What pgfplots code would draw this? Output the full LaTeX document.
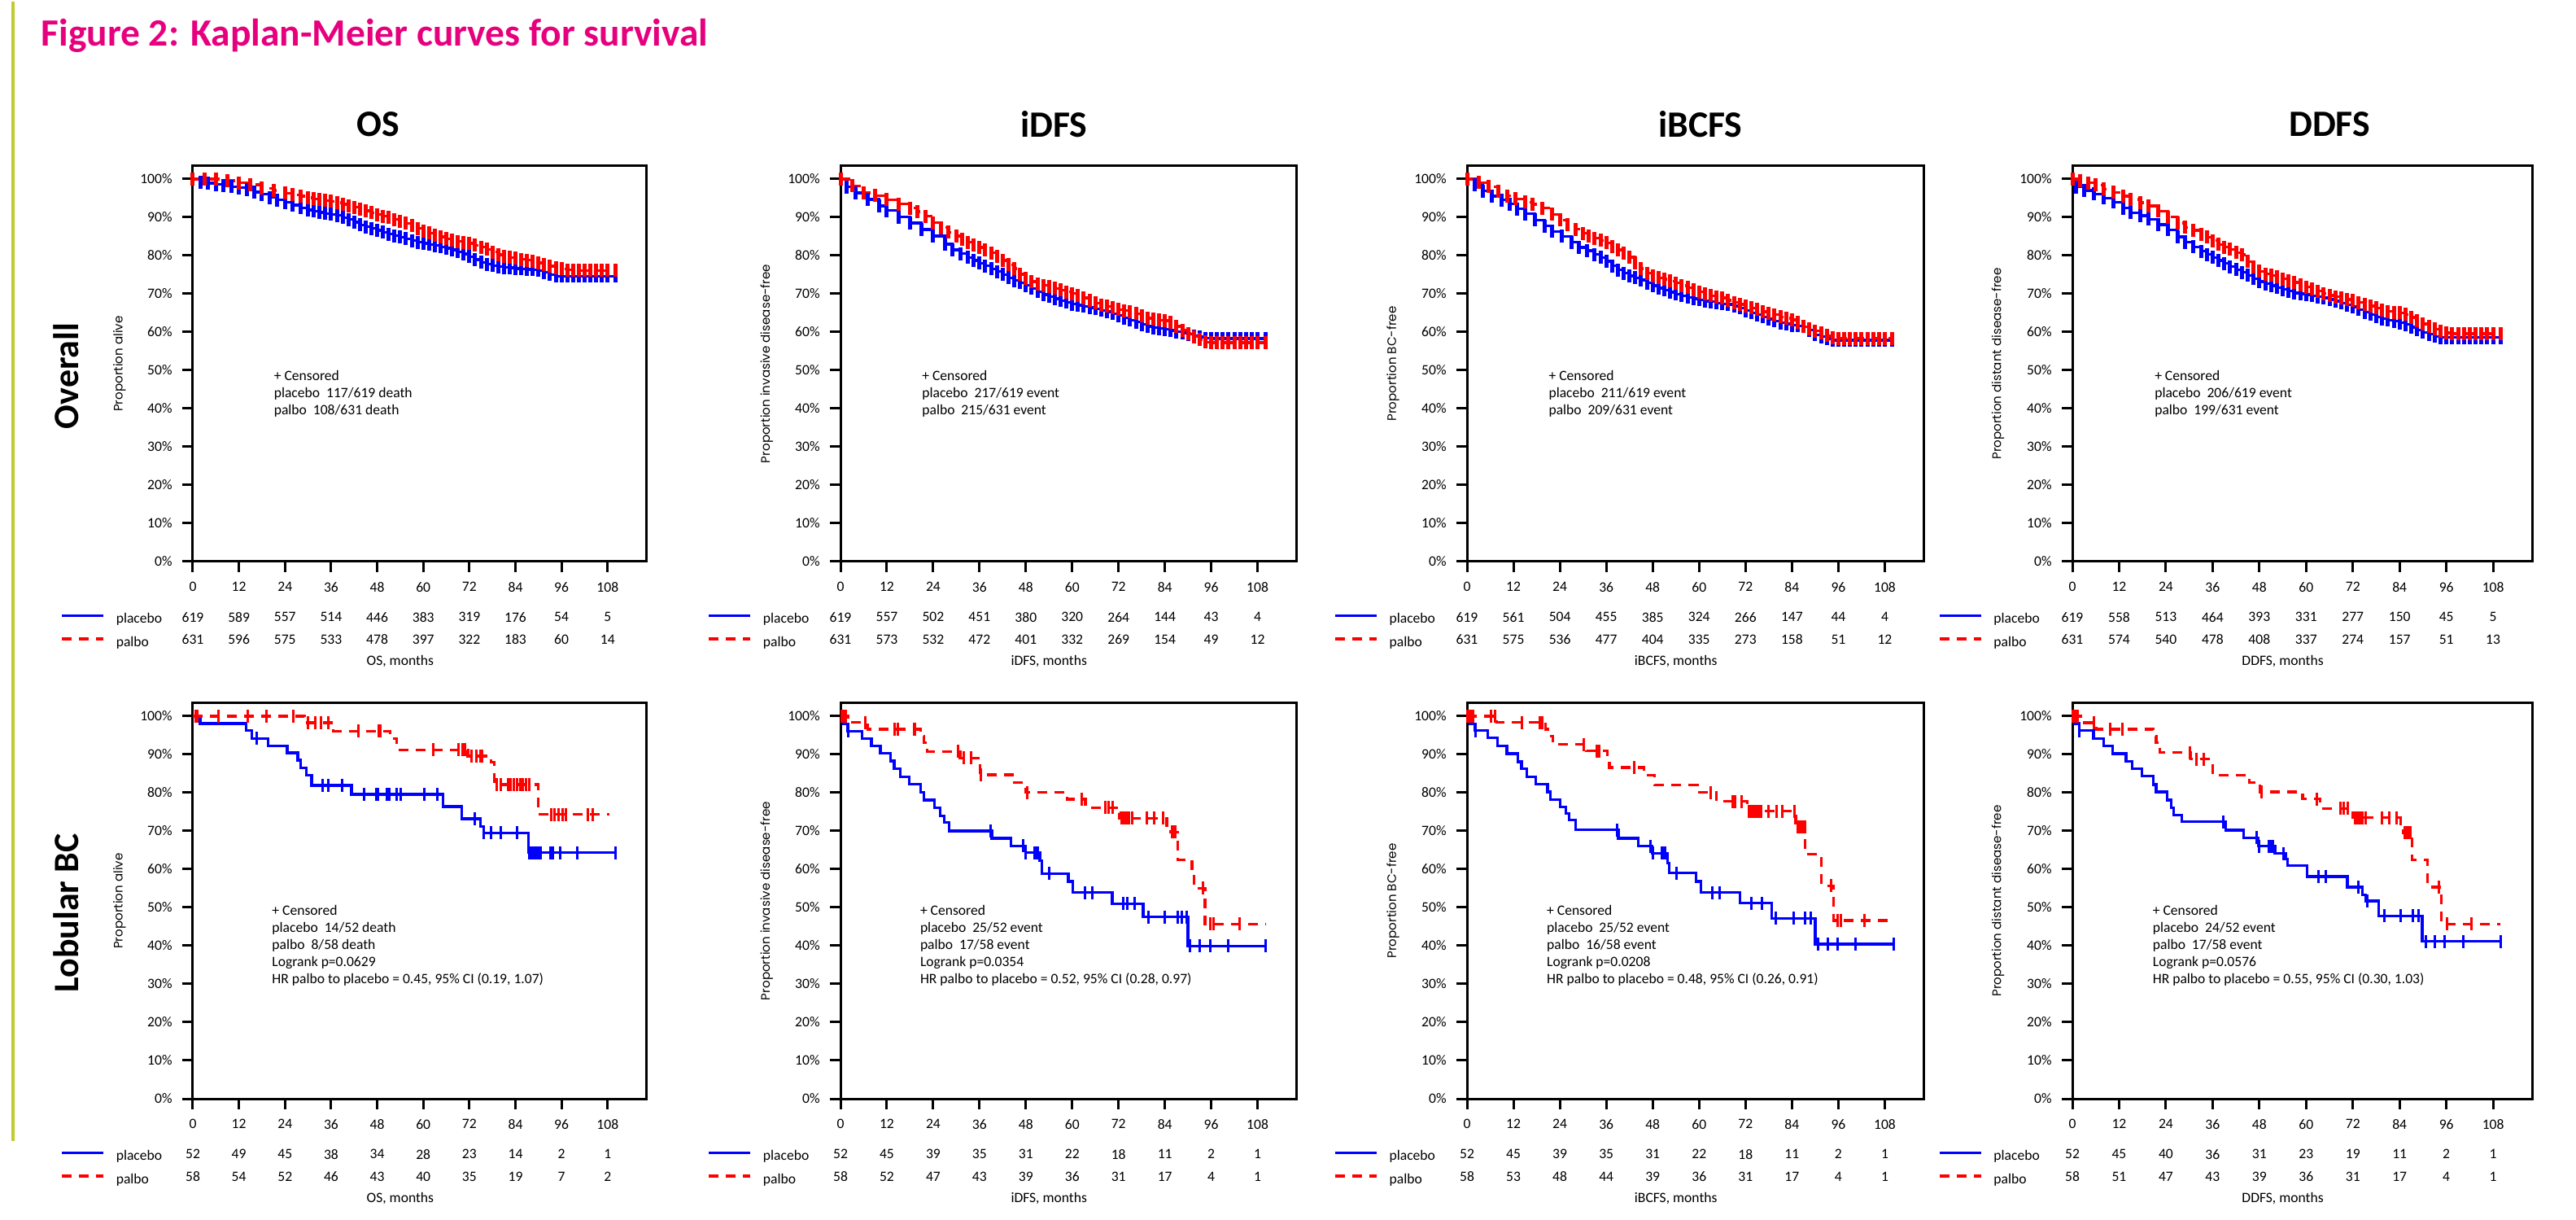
\documentclass[border=0pt]{standalone}
\usepackage{fontspec}
\setmainfont{Carlito}
\newfontfamily\geo{Poppins}
\usepackage{pgfplots}
\pgfplotsset{compat=1.18}
\usepackage{pgfplotstable}

\definecolor{pbl}{RGB}{0,0,255}
\definecolor{pre}{RGB}{255,0,0}
\definecolor{ttl}{RGB}{230,0,126}
\definecolor{bar}{RGB}{190,205,45}

\newcommand\tk{\fontsize{5}{5.97}\selectfont}
\newcommand\yl{\geo\fontsize{4.3}{5}\selectfont}

% ---- overall population, KM estimates ----
\pgfplotstableread{
x y
0 100
2 99.2
4 98.9
6 98.6
8 98.3
10 98.0
12 97.7
14 97.2
16 96.6
18 96.0
20 95.2
22 94.5
24 93.9
26 93.2
28 92.5
30 91.9
31.5 91.6
33 91.3
34.5 91.0
36 90.8
37.5 90.5
39 89.9
40.5 89.4
42 88.7
43.5 88.0
45 87.5
46.5 87.1
48 86.6
49.5 86.1
51 85.6
52.5 85.2
54 84.8
55.5 84.4
57 83.9
58.5 83.5
60 83.2
61.5 82.9
63 82.6
64.5 82.3
66 81.9
67.5 81.5
69 81.0
70.5 80.4
72 79.7
73.5 78.9
75 78.2
76.5 77.7
78 77.4
79.5 77.1
81 76.9
82.5 76.8
84 76.6
85.5 76.5
87 76.4
88.5 76.3
90 76.1
91.5 75.6
93 75.0
94.5 74.6
96 74.6
97.5 74.6
99 74.6
100.5 74.6
102 74.6
103.5 74.6
105 74.6
106.5 74.6
108 74.6
110 74.6
}\osP
\pgfplotstableread{
x y
0 100
3 100
6 100
9 99.6
12 99.0
15 98.5
18 97.6
21 97.0
24 96.3
26 95.9
28 95.5
30 95.1
31.5 94.8
33 94.6
34.5 94.4
36 94.2
37.5 93.8
39 93.4
40.5 93.0
42 92.6
43.5 92.2
45 91.7
46.5 91.2
48 90.7
49.5 90.3
51 89.9
52.5 89.4
54 88.9
55.5 88.4
57 87.8
58.5 87.1
60 86.4
61.5 85.9
63 85.4
64.5 84.9
66 84.4
67.5 84.0
69 83.7
70.5 83.4
72 83.2
73.5 82.7
75 82.2
76.5 81.6
78 80.9
79.5 80.2
81 79.8
82.5 79.5
84 79.3
85.5 79.0
87 78.8
88.5 78.4
90 78.1
91.5 77.7
93 77.2
94.5 76.8
96 76.5
97.5 76.2
99 76.1
100.5 76.1
102 76.1
103.5 76.1
105 76.1
106.5 76.1
108 76.1
110 76.1
}\osR
\pgfplotstableread{
x y
0 100
1.5 97.9
4 96.4
7 94.7
10 93.0
12 91.8
15 90.1
18 88.5
21 86.8
24 85.1
27 83.0
29 81.5
31 80.5
33 79.5
34.5 78.7
36 78.0
37.5 77.3
39 76.5
40.5 75.8
42 75.0
43.5 74.2
45 73.5
46.5 72.9
48 72.2
49.5 71.4
51 70.6
52.5 69.8
54 69.3
55.5 68.7
57 68.2
58.5 67.8
60 67.3
61.5 67.0
63 66.7
64.5 66.4
66 66.1
67.5 65.7
69 65.3
70.5 64.8
72 64.3
73.5 63.7
75 63.1
76.5 62.6
78 62.0
79.5 61.5
81 61.1
82.5 60.9
84 60.7
85.5 60.4
87 60.1
88.5 59.8
90 59.4
91.5 59.0
93 58.7
94.5 58.4
96 58.3
97.5 58.3
99 58.3
100.5 58.3
102 58.3
103.5 58.3
105 58.3
106.5 58.3
108 58.3
110 58.3
}\idP
\pgfplotstableread{
x y
0 100
3 98.2
6 96.4
9 95.7
12 94.6
15 93.5
18 92.4
20 91.5
22 90.3
24 88.6
26 87.3
28 86.1
30 85.1
31.5 84.2
33 83.5
34.5 82.7
36 82.1
37.5 81.4
39 80.7
40.5 79.8
42 78.7
43.5 77.6
45 76.6
46.5 75.1
48 74.0
49.5 73.2
51 72.6
52.5 72.2
54 71.9
55.5 71.4
57 71.0
58.5 70.5
60 70.1
61.5 69.6
63 68.9
64.5 68.2
66 67.6
67.5 67.1
69 66.7
70.5 66.3
72 65.9
73.5 65.6
75 65.3
76.5 64.8
78 64.2
79.5 63.6
81 63.3
82.5 63.1
84 63.0
85.5 62.5
87 61.5
88.5 60.5
90 59.6
91.5 58.8
93 58.0
94.5 57.4
96 57.2
97.5 57.2
99 57.2
100.5 57.2
102 57.2
103.5 57.2
105 57.2
106.5 57.2
108 57.2
110 57.2
}\idR
\pgfplotstableread{
x y
0 100
2 98.4
4 96.9
6.5 95.5
9 94.5
11 93.5
13 92.2
15 90.9
17.5 89.3
20 87.7
22 86.3
24.5 85.0
27 83.5
29 82.1
31 81.3
33 80.3
34.5 79.5
36 78.5
37.5 77.3
39 76.2
40.5 75.4
42 74.7
43.5 74.2
45 73.6
46.5 72.8
48 72.1
49.5 71.5
51 71.0
52.5 70.4
54 69.9
55.5 69.5
57 69.1
58.5 68.7
60 68.4
61.5 68.1
63 67.9
64.5 67.6
66 67.4
67.5 67.2
69 66.8
70.5 66.3
72 65.6
73.5 65.0
75 64.5
76.5 64.0
78 63.4
79.5 62.9
81 62.4
82.5 62.1
84 61.8
85.5 61.6
87 61.4
88.5 60.5
90 59.3
91.5 58.8
93 58.3
94.5 57.9
96 57.9
97.5 57.9
99 57.9
100.5 57.9
102 57.9
103.5 57.9
105 57.9
106.5 57.9
108 57.9
110 57.9
}\ibP
\pgfplotstableread{
x y
0 100
3 99.1
5.5 98.0
8 96.8
10.5 95.6
12.5 94.8
15 94.0
17 93.4
19.5 92.4
22 90.8
24 89.3
26 88.1
28 86.9
30 85.8
31.5 85.0
33 84.5
34.5 84.0
36 83.3
37.5 82.4
39 81.5
40.5 80.7
42 79.6
43.5 78.0
45 76.6
46.5 75.4
48 74.7
49.5 74.2
51 73.8
52.5 73.3
54 72.8
55.5 72.1
57 71.6
58.5 71.0
60 70.5
61.5 69.9
63 69.5
64.5 69.2
66 68.9
67.5 68.3
69 67.7
70.5 67.2
72 66.8
73.5 66.3
75 65.9
76.5 65.3
78 64.9
79.5 64.5
81 64.0
82.5 63.6
84 63.2
85.5 62.6
87 61.4
88.5 60.8
90 60.3
91.5 59.8
93 59.1
94.5 58.6
96 58.4
97.5 58.4
99 58.4
100.5 58.4
102 58.4
103.5 58.4
105 58.4
106.5 58.4
108 58.4
110 58.4
}\ibR
\pgfplotstableread{
x y
0 100
1 97.9
3 97.0
5.5 96.1
8 95.0
10.5 94.0
13 92.4
15 91.2
17.5 90.4
19.5 89.5
22 88.1
24.5 86.7
27 84.9
29 83.5
31 82.3
33 81.1
34.5 80.3
36 79.5
37.5 78.7
39 77.9
40.5 77.1
42 76.3
43.5 75.6
45 74.8
46.5 74.0
48 73.2
49.5 72.6
51 72.1
52.5 71.6
54 71.1
55.5 70.7
57 70.2
58.5 70.0
60 69.8
61.5 69.5
63 69.2
64.5 68.9
66 68.5
67.5 68.1
69 67.6
70.5 67.1
72 66.6
73.5 65.9
75 65.2
76.5 64.6
78 64.0
79.5 63.5
81 63.1
82.5 62.8
84 62.4
85.5 62.0
87 61.3
88.5 60.6
90 59.9
91.5 59.4
93 58.9
94.5 58.6
96 58.6
97.5 58.6
99 58.6
100.5 58.6
102 58.6
103.5 58.6
105 58.6
106.5 58.6
108 58.6
110 58.6
}\ddP
\pgfplotstableread{
x y
0 100
2 99.6
4 99.0
6 98.4
8 97.4
10.5 96.5
13 95.5
15 94.7
17.5 93.8
19.5 93.0
22 91.6
24.5 90.1
27 88.5
29 87.4
31 86.6
33 85.6
34.5 84.8
36 83.9
37.5 82.9
39 82.2
40.5 81.6
42 80.8
43.5 80.2
45 78.4
46.5 77.1
48 75.9
49.5 75.2
51 74.8
52.5 74.4
54 73.9
55.5 73.4
57 73.0
58.5 72.4
60 71.8
61.5 71.2
63 70.7
64.5 70.1
66 69.6
67.5 69.2
69 68.9
70.5 68.5
72 68.2
73.5 67.7
75 67.3
76.5 66.8
78 66.3
79.5 65.8
81 65.4
82.5 65.2
84 65.0
85.5 64.6
87 63.8
88.5 62.9
90 62.1
91.5 61.4
93 60.8
94.5 60.3
96 59.8
97.5 59.6
99 59.6
100.5 59.6
102 59.6
103.5 59.6
105 59.6
106.5 59.6
108 59.6
110 59.6
}\ddR

\pgfplotsset{
  km/.style={scale only axis, height=4.86cm, xmin=0, xmax=118, ymin=0, ymax=103.4,
    clip=false, anchor=north west,
    axis line style={line width=0.03cm},
    xtick={0,12,...,108}, ytick={0,10,...,100},
    tick align=outside, xtick pos=bottom, ytick pos=left,
    major tick length=0.13cm, tick style={line width=0.03cm, black},
    ticklabel style={font=\tk},
    /pgf/number format/assume math mode=true,
    yticklabel={\pgfmathprintnumber{\tick}\%},
    xlabel style={at={(axis description cs:0.4576,-0.253)}, anchor=center, font=\tk},
    ylabel style={at={(axis description cs:-0.162,0.5)}, anchor=center, font=\yl},
    legend style={at={(axis description cs:-0.293,-0.1317)}, anchor=north west,
      draw=none, fill=none, inner sep=0pt, font=\tk, row sep=0.15cm, column sep=0.14cm,
      nodes={inner sep=0pt, text height=0.1cm, text depth=0.03cm}},
    legend cell align=left,
    legend image code/.code={\draw[##1] (0cm,0.055cm) -- (0.51cm,0.055cm);},
  },
  pl/.style={color=pbl, line width=0.033cm, const plot, mark=none},
  pr/.style={color=pre, line width=0.033cm, const plot, mark=none, dash pattern=on 0.12cm off 0.09cm},
  cb/.style={only marks, mark=|, mark size=0.08cm, color=pbl, mark options={solid, line width=0.03cm}, forget plot},
  cr/.style={only marks, mark=|, mark size=0.08cm, color=pre, mark options={solid, line width=0.03cm}, forget plot},
  dense/.style={mark options={solid, line width=0.05cm}},
}

% numbers at risk, one row; columns sit under the ticks 0, 12, ..., 108
\newcommand\riskrow[2]{\addplot[draw=none, mark=none, forget plot, nodes near coords,
  point meta=explicit symbolic, nodes near coords align=center,
  every node near coord/.append style={font=\tk, inner sep=0pt}]
  table[x expr=12*\coordindex, y expr=#1, meta=n, row sep=\\] {n\\#2\\};}

\begin{document}
\begin{tikzpicture}
\path (0,0) rectangle (31.66,-14.97);
\draw[bar, line width=0.04cm] (0.16,0) -- (0.16,-14.0);
\node[anchor=west, inner sep=0pt, text=ttl, font=\fontsize{13.5}{15}\selectfont\bfseries] at (0.5,-0.42) {Figure 2: Kaplan-Meier curves for survival};
\foreach \t/\x in {OS/4.65, iDFS/12.95, iBCFS/20.9, DDFS/28.63}
  \node[font=\fontsize{13}{15}\selectfont\bfseries] at (\x,-1.51) {\t};
\node[rotate=90, font=\fontsize{12.5}{15}\selectfont\bfseries] at (0.81,-4.6) {Overall};
\node[rotate=90, font=\fontsize{12.5}{15}\selectfont\bfseries] at (0.81,-11.2) {Lobular BC};

% ================= Overall =================
\begin{axis}[km, width=5.57cm, at={(2.37cm,-2.02cm)}, ylabel={Proportion alive}, xlabel={OS, months}]
\addplot[pl] table {\osP};
\addplot[cb, dense] table {\osP};
\addplot[pr] table {\osR};
\addplot[cr, dense] table {\osR};
\riskrow{-14.5}{619\\589\\557\\514\\446\\383\\319\\176\\54\\5}
\riskrow{-20.4}{631\\596\\575\\533\\478\\397\\322\\183\\60\\14}
\node[anchor=north west, align=left, font=\tk, inner sep=0pt] at (axis cs:21,50) {+ Censored\\placebo\ \ 117/619 death\\palbo\ \ 108/631 death};
\legend{placebo, palbo}
\end{axis}

\begin{axis}[km, width=5.60cm, at={(10.33cm,-2.02cm)}, ylabel={Proportion invasive disease-free}, xlabel={iDFS, months}]
\addplot[pl] table {\idP};
\addplot[cb, dense] table {\idP};
\addplot[pr] table {\idR};
\addplot[cr, dense] table {\idR};
\riskrow{-14.5}{619\\557\\502\\451\\380\\320\\264\\144\\43\\4}
\riskrow{-20.4}{631\\573\\532\\472\\401\\332\\269\\154\\49\\12}
\node[anchor=north west, align=left, font=\tk, inner sep=0pt] at (axis cs:21,50) {+ Censored\\placebo\ \ 217/619 event\\palbo\ \ 215/631 event};
\legend{placebo, palbo}
\end{axis}

\begin{axis}[km, width=5.61cm, at={(18.03cm,-2.02cm)}, ylabel={Proportion BC-free}, xlabel={iBCFS, months}]
\addplot[pl] table {\ibP};
\addplot[cb, dense] table {\ibP};
\addplot[pr] table {\ibR};
\addplot[cr, dense] table {\ibR};
\riskrow{-14.5}{619\\561\\504\\455\\385\\324\\266\\147\\44\\4}
\riskrow{-20.4}{631\\575\\536\\477\\404\\335\\273\\158\\51\\12}
\node[anchor=north west, align=left, font=\tk, inner sep=0pt] at (axis cs:21,50) {+ Censored\\placebo\ \ 211/619 event\\palbo\ \ 209/631 event};
\legend{placebo, palbo}
\end{axis}

\begin{axis}[km, width=5.65cm, at={(25.47cm,-2.02cm)}, ylabel={Proportion distant disease-free}, xlabel={DDFS, months}]
\addplot[pl] table {\ddP};
\addplot[cb, dense] table {\ddP};
\addplot[pr] table {\ddR};
\addplot[cr, dense] table {\ddR};
\riskrow{-14.5}{619\\558\\513\\464\\393\\331\\277\\150\\45\\5}
\riskrow{-20.4}{631\\574\\540\\478\\408\\337\\274\\157\\51\\13}
\node[anchor=north west, align=left, font=\tk, inner sep=0pt] at (axis cs:21,50) {+ Censored\\placebo\ \ 206/619 event\\palbo\ \ 199/631 event};
\legend{placebo, palbo}
\end{axis}

% ================= Lobular BC =================
\begin{axis}[km, width=5.57cm, at={(2.37cm,-8.62cm)}, ylabel={Proportion alive}, xlabel={OS, months}]
\addplot[pl] coordinates {(0,100) (1.9,98.1) (13.9,96.2) (15.3,94.2) (19.6,92.3) (24.6,90.4) (27.3,88.5) (28.1,86.5) (29.5,84.6) (30.9,81.9) (41.3,79.6) (65.2,76.4) (70,73.2) (74.9,71.1) (75.8,69.5) (87.4,64.3) (110,64.3)};
\addplot[cb] coordinates {(16.7,94.2) (33.8,81.9) (35.2,81.9) (38.8,81.9) (44.6,79.6) (47.7,79.6) (48.2,79.6) (50.6,79.6) (51.1,79.6) (53.1,79.6) (54.1,79.6) (60.2,79.6) (63.6,79.6) (73.3,73.2) (75.7,69.5) (77.7,69.5) (80.1,69.5) (84.4,69.5) (87.6,64.3) (88.2,64.3) (88.8,64.3) (89.4,64.3) (90,64.3) (90.5,64.3) (93.1,64.3) (93.8,64.3) (95.7,64.3) (100.2,64.3) (110,64.3)};
\addplot[pr] coordinates {(0,100) (29,98.3) (36.6,96.1) (51.3,94.2) (53.1,91.2) (71.6,89.6) (77.7,88.0) (78.5,82.1) (90,74.3) (108.5,74.3)};
\addplot[cr] coordinates {(0.7,100) (1.1,100) (6.6,100) (14.4,100) (19.1,100) (26.2,100) (30,98.3) (31.9,98.3) (33.3,98.3) (35.2,98.3) (43.2,96.1) (48.4,96.1) (48.9,96.1) (62.6,91.2) (69.2,91.2) (70.2,91.2) (70.9,91.2) (72.5,89.6) (73.9,89.6) (74.9,89.6) (75.4,89.6) (79.2,82.1) (80.1,82.1) (82,82.1) (82.8,82.1) (83.6,82.1) (84.4,82.1) (85.2,82.1) (86,82.1) (86.8,82.1) (87.7,82.1) (93.3,74.3) (94.2,74.3) (95.2,74.3) (96.2,74.3) (97.1,74.3) (102.8,74.3) (104.2,74.3)};
\riskrow{-14.5}{52\\49\\45\\38\\34\\28\\23\\14\\2\\1}
\riskrow{-20.4}{58\\54\\52\\46\\43\\40\\35\\19\\7\\2}
\node[anchor=north west, align=left, font=\tk, inner sep=0pt] at (axis cs:20.5,50.7) {+ Censored\\placebo\ \ 14/52 death\\palbo\ \ 8/58 death\\Logrank p=0.0629\\HR palbo to placebo = 0.45, 95\% CI (0.19, 1.07)};
\legend{placebo, palbo}
\end{axis}

\begin{axis}[km, width=5.60cm, at={(10.33cm,-8.62cm)}, ylabel={Proportion invasive disease-free}, xlabel={iDFS, months}]
\addplot[pl] coordinates {(0,100) (0.75,98.0) (1.9,96.1) (5.6,94.2) (8,92.3) (10.3,90.3) (13,88.3) (13.9,86.2) (15.5,84.2) (17.8,82.2) (20.7,80.1) (21.6,78.1) (24.4,76.1) (25.8,74.0) (26.8,72.2) (28.2,70.0) (39.2,68.1) (44.1,66.1) (47.9,64.3) (51.6,62.2) (52.1,58.9) (59,56.8) (60.1,53.9) (70.4,51.0) (78.4,47.5) (90,39.9) (110,39.9)};
\addplot[cb] coordinates {(1.9,96.1) (38.8,70) (47.4,66.1) (47.9,64.3) (50.2,64.3) (50.7,64.3) (51.2,64.3) (54,58.9) (63.4,53.9) (65.3,53.9) (73.2,51) (74.2,51) (76.1,51) (79.8,47.5) (84,47.5) (87.3,47.5) (88.3,47.5) (89.7,47.5) (90.6,39.9) (93,39.9) (95.8,39.9) (100.5,39.9) (110,39.9)};
\addplot[pr] coordinates {(0,100) (1.9,98.4) (7,96.6) (20.7,94.8) (21.6,93.1) (22.5,90.8) (31,89.1) (35.7,87.6) (36.2,84.7) (45,82.6) (47.9,80.1) (58.7,78.3) (63.4,76.1) (71.4,74.7) (72.3,73.3) (84.5,71.5) (85.5,69.7) (87.3,62.5) (91,58.8) (91.6,55.0) (94.4,45.7) (110,45.7)};
\addplot[cr] coordinates {(0.3,100) (0.8,100) (1.3,100) (6.4,98.4) (14.1,96.6) (14.8,96.6) (19,96.6) (19.2,96.6) (30.5,90.8) (31.9,89.1) (33.8,89.1) (36.4,84.7) (48.4,80.1) (62.4,78.3) (68.5,76.1) (69.5,76.1) (70.4,76.1) (72.8,73.3) (73.3,73.3) (73.8,73.3) (74.3,73.3) (74.8,73.3) (75.6,73.3) (79.3,73.3) (81.2,73.3) (83.6,73.3) (85.8,69.7) (86.3,69.7) (86.8,69.7) (93.9,55) (95.8,45.7) (96.7,45.7) (103.3,45.7)};
\riskrow{-14.5}{52\\45\\39\\35\\31\\22\\18\\11\\2\\1}
\riskrow{-20.4}{58\\52\\47\\43\\39\\36\\31\\17\\4\\1}
\node[anchor=north west, align=left, font=\tk, inner sep=0pt] at (axis cs:20.5,50.7) {+ Censored\\placebo\ \ 25/52 event\\palbo\ \ 17/58 event\\Logrank p=0.0354\\HR palbo to placebo = 0.52, 95\% CI (0.28, 0.97)};
\legend{placebo, palbo}
\end{axis}

\begin{axis}[km, width=5.61cm, at={(18.03cm,-8.62cm)}, ylabel={Proportion BC-free}, xlabel={iBCFS, months}]
\addplot[pl] coordinates {(0,100) (0.7,98.0) (2.1,96.2) (5.3,94.3) (7.9,92.3) (10.3,90.2) (13.1,88.1) (14.1,86.3) (15.4,84.1) (17.8,82.2) (20.8,80.2) (21.6,78.2) (24.1,76.3) (25.5,74.5) (26.4,72.8) (28.1,70.3) (39.1,68.1) (44.2,66.0) (47.8,64.2) (51.9,61.6) (52.3,59.0) (59.2,56.8) (60.4,53.9) (70.5,51.1) (78.7,47.2) (90,40.4) (110.3,40.4)};
\addplot[cb] coordinates {(2.1,96.2) (38.9,70.3) (47.5,66) (48,64.2) (50.3,64.2) (50.8,64.2) (51.3,64.2) (54.1,59) (63.5,53.9) (65.3,53.9) (73.6,51.1) (76.3,51.1) (79.9,47.2) (84.4,47.2) (87.4,47.2) (88.8,47.2) (90.7,40.4) (93.2,40.4) (95.8,40.4) (100.5,40.4) (110.3,40.4)};
\addplot[pr] coordinates {(0,100) (7.7,98.4) (20.3,96.6) (21.3,94.8) (22.2,92.6) (30.9,90.9) (36.3,88.8) (36.8,86.6) (45.8,84.5) (48.5,82.0) (59.5,80.1) (64.5,77.7) (72.5,75.2) (85,71.0) (87.4,63.9) (91.6,55.7) (94.7,46.6) (110.3,46.6)};
\addplot[cr] coordinates {(0.2,100) (0.7,100) (1.2,100) (1.6,100) (6.1,100) (7.2,100) (14.2,98.4) (18.9,98.4) (19.4,98.4) (30.2,92.6) (33.5,90.9) (34.1,90.9) (43.3,86.6) (63,80.1) (68.6,77.7) (69.2,77.7) (71,77.7) (72.8,75.2) (73.3,75.2) (73.8,75.2) (74.3,75.2) (74.8,75.2) (75.3,75.2) (76.1,75.2) (78,75.2) (80.1,75.2) (81.6,75.2) (84.6,75.2) (85.4,71) (85.9,71) (86.4,71) (86.9,71) (87.4,71) (94.1,55.7) (95.8,46.6) (96.7,46.6) (102.8,46.6)};
\riskrow{-14.5}{52\\45\\39\\35\\31\\22\\18\\11\\2\\1}
\riskrow{-20.4}{58\\53\\48\\44\\39\\36\\31\\17\\4\\1}
\node[anchor=north west, align=left, font=\tk, inner sep=0pt] at (axis cs:20.5,50.7) {+ Censored\\placebo\ \ 25/52 event\\palbo\ \ 16/58 event\\Logrank p=0.0208\\HR palbo to placebo = 0.48, 95\% CI (0.26, 0.91)};
\legend{placebo, palbo}
\end{axis}

\begin{axis}[km, width=5.65cm, at={(25.47cm,-8.62cm)}, ylabel={Proportion distant disease-free}, xlabel={DDFS, months}]
\addplot[pl] coordinates {(0,100) (0.5,98.1) (1.7,96.2) (5.4,94.2) (8,92.3) (10.3,90.2) (13.8,88.2) (15.4,86.3) (17.8,84.3) (20.8,82.1) (21.5,80.2) (24.3,78.1) (25.3,76.0) (26,74.2) (28.1,72.4) (39.3,70.2) (44,68.2) (47.7,66.0) (52,64.1) (54.7,62.6) (55.2,61.0) (60.3,58.1) (70.6,55.3) (74.4,53.3) (75.3,51.7) (78.6,47.8) (89.8,41.1) (109.9,41.1)};
\addplot[cb] coordinates {(1.7,96.2) (38.8,72.4) (47.2,68.2) (47.9,66) (50.5,66) (51,66) (51.5,66) (54.1,64.1) (63.1,58.1) (65,58.1) (73.4,55.3) (75.8,51.7) (80,47.8) (84.2,47.8) (87.5,47.8) (88.9,47.8) (90.7,41.1) (93.1,41.1) (95.6,41.1) (100.3,41.1) (109.9,41.1)};
\addplot[pr] coordinates {(0,100) (2.1,98.3) (6.1,96.6) (20.8,94.8) (21.5,93.1) (22.5,90.5) (30.4,88.8) (36,84.6) (45.4,82.7) (48.2,80.2) (59.1,78.4) (63.6,75.9) (71.1,74.7) (72,73.5) (84.2,71.5) (85,69.5) (87.2,62.4) (91.2,55.3) (94.7,45.7) (109.9,45.7)};
\addplot[cr] coordinates {(0,100) (0.5,100) (1,100) (1.4,100) (5.6,98.3) (9.8,96.6) (12.9,96.6) (30.1,90.5) (31.8,88.8) (33.7,88.8) (48.5,80.2) (62.7,78.4) (68.8,75.9) (69.6,75.9) (70.6,75.9) (72.5,73.5) (73,73.5) (73.5,73.5) (74,73.5) (74.5,73.5) (75.3,73.5) (79.5,73.5) (81.4,73.5) (83.3,73.5) (85.3,69.5) (85.8,69.5) (86.3,69.5) (86.8,69.5) (94,55.3) (96.2,45.7) (102.4,45.7)};
\riskrow{-14.5}{52\\45\\40\\36\\31\\23\\19\\11\\2\\1}
\riskrow{-20.4}{58\\51\\47\\43\\39\\36\\31\\17\\4\\1}
\node[anchor=north west, align=left, font=\tk, inner sep=0pt] at (axis cs:20.5,50.7) {+ Censored\\placebo\ \ 24/52 event\\palbo\ \ 17/58 event\\Logrank p=0.0576\\HR palbo to placebo = 0.55, 95\% CI (0.30, 1.03)};
\legend{placebo, palbo}
\end{axis}
\end{tikzpicture}
\end{document}
